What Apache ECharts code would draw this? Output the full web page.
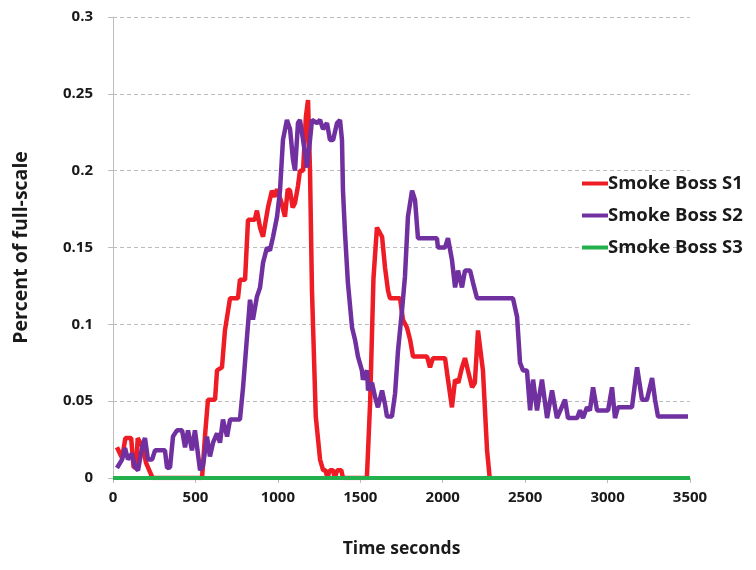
<!DOCTYPE html>
<html>
<head>
<meta charset="utf-8">
<script src="https://cdn.jsdelivr.net/npm/echarts@6/dist/echarts.min.js"></script>
<style>html,body{margin:0;padding:0;background:#fff;}#c{width:756px;height:570px;}</style>
</head>
<body>
<div id="c"></div>
<script>
const seriesNames = ['Smoke Boss S1', 'Smoke Boss S2', 'Smoke Boss S3'];
const xTicks = [0, 500, 1000, 1500, 2000, 2500, 3000, 3500];
const yTicks = [0, 0.05, 0.1, 0.15, 0.2, 0.25, 0.3];

const s1 = [
  [24,0.02],[55,0.013],[75,0.026],[110,0.026],[125,0.007],[140,0.007],[150,0.026],[180,0.02],[200,0.01],[220,0.005],[240,0],
  [540,0],[560,0.03],[576,0.051],[619,0.051],[631,0.07],[661,0.072],[679,0.096],[710,0.117],[758,0.117],[770,0.129],[801,0.129],
  [819,0.168],[860,0.168],[873,0.174],[892,0.163],[910,0.157],[940,0.176],[964,0.187],[980,0.183],[995,0.188],[1020,0.18],[1043,0.17],
  [1060,0.188],[1074,0.187],[1090,0.176],[1104,0.179],[1122,0.19],[1134,0.2],[1153,0.2],[1170,0.235],[1183,0.246],[1195,0.2],
  [1207,0.122],[1230,0.04],[1256,0.012],[1275,0.005],[1290,0.005],[1300,0],[1315,0.005],[1335,0.005],[1345,0],[1360,0.005],
  [1385,0.005],[1395,0],[1540,0],[1560,0.05],[1580,0.13],[1601,0.163],[1632,0.157],[1650,0.137],[1668,0.122],[1680,0.117],
  [1741,0.117],[1759,0.103],[1783,0.098],[1802,0.09],[1820,0.079],[1905,0.079],[1923,0.072],[1941,0.078],[2014,0.078],
  [2032,0.064],[2056,0.046],[2075,0.064],[2095,0.062],[2117,0.072],[2135,0.078],[2153,0.07],[2178,0.059],[2195,0.062],
  [2214,0.096],[2226,0.096],[2244,0.07],[2269,0.018],[2285,0]
];

const s2 = [
  [24,0.0065],[55,0.012],[73,0.0195],[91,0.012],[115,0.016],[133,0.007],[152,0.005],[176,0.02],[194,0.026],[212,0.012],
  [237,0.012],[255,0.018],[315,0.018],[328,0.0065],[346,0.007],[364,0.027],[388,0.031],[419,0.031],[437,0.02],[455,0.031],
  [479,0.018],[497,0.031],[528,0.005],[546,0.008],[570,0.027],[588,0.014],[607,0.023],[631,0.029],[649,0.023],[667,0.038],
  [692,0.027],[710,0.038],[770,0.038],[789,0.059],[813,0.092],[831,0.116],[849,0.103],[873,0.118],[892,0.124],[910,0.14],
  [934,0.15],[952,0.148],[971,0.157],[995,0.17],[1013,0.187],[1031,0.22],[1055,0.233],[1074,0.227],[1092,0.207],[1104,0.2],
  [1122,0.231],[1134,0.233],[1153,0.22],[1177,0.202],[1195,0.22],[1207,0.233],[1237,0.231],[1256,0.233],[1274,0.227],
  [1298,0.231],[1316,0.22],[1335,0.22],[1359,0.231],[1377,0.233],[1389,0.22],[1395,0.187],[1407,0.16],[1425,0.127],
  [1450,0.098],[1468,0.09],[1486,0.079],[1510,0.07],[1516,0.064],[1541,0.07],[1547,0.057],[1571,0.062],[1589,0.053],
  [1607,0.046],[1632,0.057],[1650,0.048],[1662,0.04],[1692,0.04],[1711,0.055],[1729,0.083],[1753,0.109],[1771,0.131],
  [1789,0.17],[1814,0.187],[1832,0.181],[1850,0.156],[1965,0.156],[1971,0.15],[2014,0.15],[2032,0.156],[2056,0.142],
  [2075,0.124],[2093,0.135],[2117,0.124],[2135,0.135],[2166,0.135],[2184,0.127],[2208,0.117],[2426,0.117],[2451,0.105],
  [2469,0.075],[2487,0.07],[2511,0.07],[2530,0.044],[2548,0.064],[2572,0.044],[2602,0.064],[2633,0.039],[2663,0.057],
  [2693,0.039],[2742,0.051],[2760,0.039],[2815,0.039],[2833,0.044],[2851,0.039],[2875,0.046],[2893,0.044],[2912,0.059],
  [2936,0.044],[3003,0.044],[3027,0.059],[3045,0.039],[3063,0.046],[3148,0.046],[3179,0.072],[3209,0.051],[3239,0.051],
  [3270,0.065],[3288,0.051],[3306,0.04],[3488,0.04]
];

const s3 = [[0,0],[3500,0]];

const colors = ['#ee1c25', '#7030a0', '#22b14c'];
const font = '"Open Sans", sans-serif';

const chart = echarts.init(document.getElementById('c'));
chart.setOption({
  animation: false,
  backgroundColor: '#fff',
  grid: { left: 113, right: 66, top: 17, bottom: 92, containLabel: false },
  legend: {
    orient: 'vertical', left: 577, top: 169, itemGap: 13, itemWidth: 26, itemHeight: 4, icon: 'rect',
    data: seriesNames,
    textStyle: { fontFamily: font, fontWeight: 'bold', fontSize: 18.5, color: '#1a1a1a', padding: [0,0,0,-5] }
  },
  xAxis: {
    type: 'value', min: 0, max: 3500, interval: 500,
    name: 'Time seconds', nameLocation: 'middle', nameGap: 62,
    nameTextStyle: { fontFamily: font, fontWeight: 'bold', fontSize: 17.5, color: '#1a1a1a' },
    axisLine: { lineStyle: { color: '#bdbdbd', width: 1 } },
    axisTick: { show: true, length: 5, lineStyle: { color: '#bdbdbd' } },
    axisLabel: { fontFamily: font, fontWeight: 'bold', fontSize: 15, color: '#1a1a1a', margin: 12,
      formatter: v => String(v) },
    splitLine: { show: false }
  },
  yAxis: {
    type: 'value', min: 0, max: 0.3, interval: 0.05,
    name: 'Percent of full-scale', nameLocation: 'middle', nameGap: 82, nameRotate: 90,
    nameTextStyle: { fontFamily: font, fontWeight: 'bold', fontSize: 19.5, color: '#1a1a1a' },
    axisLine: { show: true, lineStyle: { color: '#bdbdbd', width: 1 } },
    axisTick: { show: true, length: 5, lineStyle: { color: '#bdbdbd' } },
    axisLabel: { fontFamily: font, fontWeight: 'bold', fontSize: 15, color: '#1a1a1a', margin: 20,
      formatter: v => String(+v.toFixed(2)) },
    splitLine: { show: true, lineStyle: { color: '#bcbcbc', type: [4, 3], width: 1 } }
  },
  series: [
    { name: seriesNames[0], type: 'line', data: s1, showSymbol: false, lineStyle: { width: 4.5, color: colors[0] }, itemStyle: { color: colors[0] } },
    { name: seriesNames[1], type: 'line', data: s2, showSymbol: false, lineStyle: { width: 4.5, color: colors[1] }, itemStyle: { color: colors[1] } },
    { name: seriesNames[2], type: 'line', data: s3, showSymbol: false, lineStyle: { width: 4, color: colors[2] }, itemStyle: { color: colors[2] } }
  ]
});
</script>
</body>
</html>
